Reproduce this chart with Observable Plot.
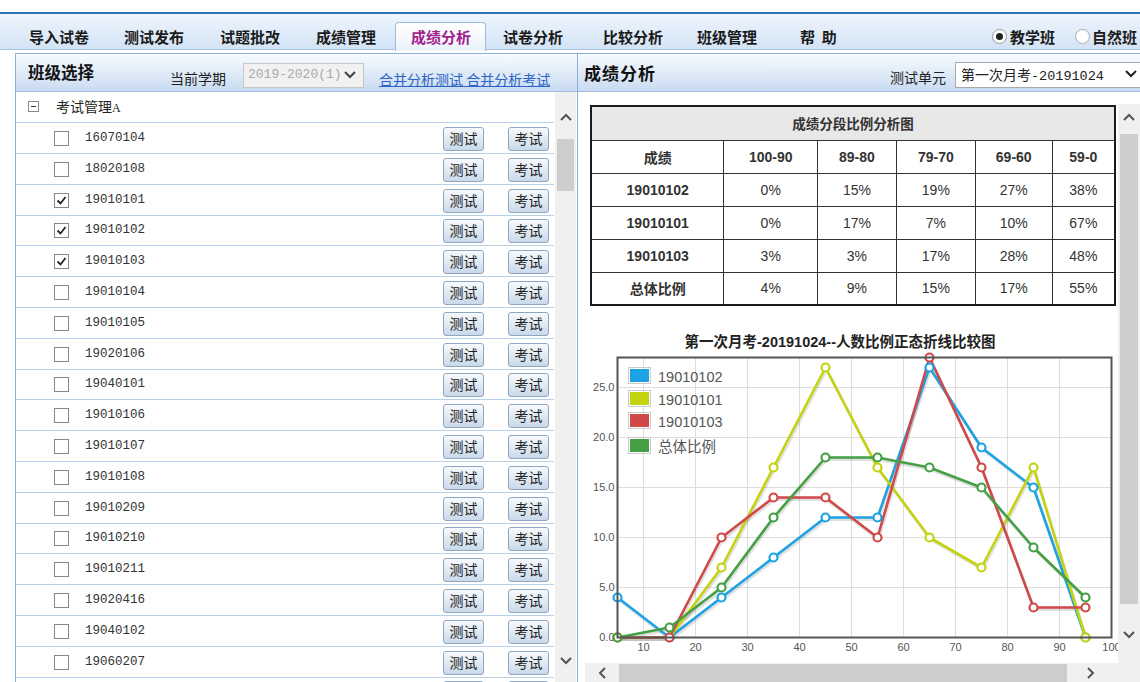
<!DOCTYPE html>
<html><head><meta charset="utf-8">
<script src="https://cdn.jsdelivr.net/npm/d3@7"></script>
<script src="https://cdn.jsdelivr.net/npm/@observablehq/plot@0.6"></script>
<style>
body{margin:0;width:1140px;height:682px;overflow:hidden;background:#fff;font-family:"Noto Sans CJK SC","Noto Sans",sans-serif;position:relative;color:#222}
.a{position:absolute}
#topline{left:0;top:12px;width:1140px;height:2px;background:#2f6fb3}
#tabbar{left:0;top:14px;width:1140px;height:35px;background:linear-gradient(#eef5fd,#d3e3f5);border-bottom:1px solid #a7c3e3}
#activeTab{left:395px;top:22px;width:89px;height:28px;background:linear-gradient(#ffffff,#eaf2fb);border:1px solid #9dbbdc;border-bottom:none;border-radius:4px 4px 0 0}
.tab{position:absolute;top:20px;height:34px;line-height:34px;font-weight:700;font-size:15px;color:#1b1b1b;white-space:nowrap}
.panel{position:absolute;top:53px;height:640px;border:1px solid #8db0d8;background:#fff}
.phead{position:absolute;left:0;top:0;right:0;height:37px;background:linear-gradient(#f7fbff,#c9dbf1);border-bottom:1px solid #9ebde0}
.row{position:absolute;left:0;width:538px;height:30px;border-bottom:1px solid #b9d0ea}
.cb{position:absolute;left:38px;top:8px;width:13px;height:13px;border:1px solid #888;background:#fff}
.cb svg{display:block;position:absolute;left:0;top:0}
.num{position:absolute;left:69px;top:0;line-height:30px;font-family:"Liberation Mono","DejaVu Sans Mono",monospace;font-size:12.5px;color:#333}
.btn{position:absolute;top:4px;width:39px;height:22px;line-height:21px;text-align:center;font-size:14px;color:#222;border:1px solid #8fa6c0;border-radius:3px;background:linear-gradient(#f7fafd,#c9d9ea)}
.sbv{position:absolute;background:#f0f0f0}
.thumb{position:absolute;background:#cdcdcd}
table{border-collapse:collapse;font-family:"Liberation Sans",Arial,sans-serif;font-size:14px;color:#333}
td{border:1px solid #333;text-align:center;padding:0}
.lg{position:absolute;left:628px;height:16px;font-family:"Liberation Sans","Noto Sans CJK SC",sans-serif;font-size:14.5px;color:#555;white-space:nowrap}
.lg i{display:inline-block;width:19px;height:13px;border:1px solid #ccc;padding:1px;background-clip:content-box;vertical-align:-2px;margin-right:7px}
</style>
</head><body>
<script>
// ---- data ----
const tabs = ["导入试卷","测试发布","试题批改","成绩管理","成绩分析","试卷分析","比较分析","班级管理","帮 助"];
const tabLeft = [29,124,220,316,411,503,603,697,800];
const activeTabName = "成绩分析";
const classList = ["16070104","18020108","19010101","19010102","19010103","19010104","19010105","19020106","19040101","19010106","19010107","19010108","19010209","19010210","19010211","19020416","19040102","19060207",""];
const checkedClasses = ["19010101","19010102","19010103"];
const tableTitle = "成绩分段比例分析图";
const tableHeader = ["成绩","100-90","89-80","79-70","69-60","59-0"];
const tableRowNames = ["19010102","19010101","19010103","总体比例"];
const tableValues = [
  ["0%","15%","19%","27%","38%"],
  ["0%","17%","7%","10%","67%"],
  ["3%","3%","17%","28%","48%"],
  ["4%","9%","15%","17%","55%"]
];
const chartTitle = "第一次月考-20191024--人数比例正态折线比较图";
const xBins = [5,15,25,35,45,55,65,75,85,95];
const seriesNames = ["19010102","19010101","19010103","总体比例"];
const seriesColors = ["#1da2e3","#c3d40f","#d04848","#45a045"];
const s19010102 = [4,0,4,8,12,12,27,19,15,0];
const s19010101 = [0,0,7,17,27,17,10,7,17,0];
const s19010103 = [0,0,10,14,14,10,28,17,3,3];
const sTotal    = [0,1,5,12,18,18,17,15,9,4];
const xTicks = [10,20,30,40,50,60,70,80,90,100];
const yTicks = [0,5,10,15,20,25];

function el(tag, cls, style, html){const e=document.createElement(tag); if(cls) e.className=cls; if(style) e.style.cssText=style; if(html!=null) e.innerHTML=html; return e;}
const chev = (dir)=>{const p={up:"M2,8 L7,3 L12,8",down:"M2,3 L7,8 L12,3",left:"M8,2 L3,7 L8,12",right:"M3,2 L8,7 L3,12"}[dir];return `<svg width="14" height="14" viewBox="0 0 14 14" style="display:block"><path d="${p}" fill="none" stroke="#555" stroke-width="2"/></svg>`;};

const B = document.body;
B.appendChild(el("div","a","",null)).id="topline";
B.appendChild(el("div","a")).id="tabbar";
B.appendChild(el("div","a")).id="activeTab";
tabs.forEach((t,i)=>{const d=el("div","tab",`left:${tabLeft[i]}px;${t===activeTabName?"color:#a3208d;":""}`,t); if(t==="帮 助") d.style.whiteSpace="pre", d.textContent="帮  助"; B.appendChild(d);});
B.appendChild(el("div","a","left:992px;top:29px;width:13px;height:13px;border-radius:50%;border:1px solid #999;background:#fff",'<div style="position:absolute;left:3px;top:3px;width:7px;height:7px;border-radius:50%;background:#222"></div>'));
B.appendChild(el("div","tab","left:1010px;","教学班"));
B.appendChild(el("div","a","left:1075px;top:29px;width:13px;height:13px;border-radius:50%;border:1px solid #aaa;background:#fff"));
B.appendChild(el("div","tab","left:1092px;","自然班"));

// left panel
const L = el("div","panel","left:15px;width:561px;overflow:hidden"); B.appendChild(L);
const LH = el("div","phead"); L.appendChild(LH);
LH.appendChild(el("div","a","left:12px;top:0;line-height:36px;font-weight:700;font-size:16.5px;color:#111","班级选择"));
LH.appendChild(el("div","a","left:154px;top:8px;line-height:32px;font-size:14px;color:#222","当前学期"));
LH.appendChild(el("div","a","left:227px;top:9px;width:119px;height:23px;border:1px solid #c6c6c6;background:#f1f1f1;overflow:hidden",'<span style="position:absolute;left:4px;top:0;line-height:22px;font-family:Liberation Mono,monospace;font-size:13px;color:#aaa;white-space:nowrap">2019-2020(1)</span><span style="position:absolute;right:0;top:0;width:20px;height:23px;background:#f1f1f1;padding-top:5px;box-sizing:border-box">'+chev("down").replace('#555','#444')+'</span>'));
LH.appendChild(el("div","a","left:363px;top:10px;line-height:30px;font-size:14px;color:#2a62c5;text-decoration:underline;white-space:nowrap","合并分析测试 合并分析考试"));
// tree header
L.appendChild(el("div","a","left:12px;top:47px;width:9px;height:9px;border:1px solid #888;font-size:0",'<div style="position:absolute;left:2px;top:4px;width:5px;height:1px;background:#333"></div>'));
L.appendChild(el("div","a","left:40px;top:38px;line-height:28px;font-size:14px;color:#222","考试管理<span style=\"font-family:Liberation Serif;font-size:12px\">A</span>"));
L.appendChild(el("div","a","left:0;top:68px;width:538px;height:1px;background:#b9d0ea"));
classList.forEach((c,i)=>{
  const r=el("div","row",`top:${69+i*30.8}px`);
  if(c){
    const chk = checkedClasses.includes(c);
    r.appendChild(el("div","cb","",chk?'<svg width="13" height="13"><path d="M2.5,6.5 L5.5,9.5 L10.5,3" fill="none" stroke="#222" stroke-width="1.8"/></svg>':""));
    r.appendChild(el("div","num","",c));
  }
  r.appendChild(el("div","btn","left:427px",c?"测试":""));
  r.appendChild(el("div","btn","left:492px",c?"考试":""));
  L.appendChild(r);
});
const LS = el("div","sbv","left:539px;top:38px;width:21px;height:602px"); L.appendChild(LS);
LS.appendChild(el("div","a","left:4px;top:20px",chev("up")));
LS.appendChild(el("div","thumb","left:2px;top:47px;width:17px;height:52px"));
LS.appendChild(el("div","a","left:4px;top:563px",chev("down")));

// right panel
const R = el("div","panel","left:577px;width:570px;overflow:hidden"); B.appendChild(R);
const RH = el("div","phead"); R.appendChild(RH);
RH.appendChild(el("div","a","left:6px;top:1px;line-height:36px;font-weight:700;font-size:17px;color:#111;letter-spacing:1px","成绩分析"));
RH.appendChild(el("div","a","left:312px;top:7px;line-height:32px;font-size:14px;color:#222","测试单元"));
RH.appendChild(el("div","a","left:377px;top:8px;width:184px;height:24px;border:1px solid #a9a9a9;background:#fff;overflow:hidden",'<span style="position:absolute;left:5px;top:0;line-height:23px;font-size:14px;color:#222;white-space:nowrap">第一次月考<span style="font-family:Liberation Mono,monospace;font-size:13.5px">-20191024</span></span><span style="position:absolute;right:2px;top:5px">'+chev("down").replace('#555','#222')+'</span>'));

// table
const T = el("table","a","left:590px;top:105px;width:526px;height:201px;border:2px solid #1a1a1a");
const colW=[133,94,79,79,77,62];
let h = `<tr style="height:34px"><td colspan="6" style="background:#e8e8e8;font-weight:700;font-family:'Noto Sans CJK SC';font-size:13.5px">${tableTitle}</td></tr>`;
h += `<tr style="height:33px">`+tableHeader.map((t,i)=>`<td style="width:${colW[i]}px;font-weight:700;${i===0?"font-family:'Noto Sans CJK SC';":""}">${t}</td>`).join("")+`</tr>`;
tableRowNames.forEach((n,ri)=>{h+=`<tr style="height:33px"><td style="font-weight:700;${/\d/.test(n)?"":"font-family:'Noto Sans CJK SC';"}">${n}</td>`+tableValues[ri].map(v=>`<td>${v}</td>`).join("")+`</tr>`;});
T.innerHTML=h; B.appendChild(T);

// chart title
B.appendChild(el("div","a","left:580px;top:330px;width:520px;text-align:center;font-weight:700;font-size:14.5px;line-height:22px;color:#222;white-space:nowrap",chartTitle.replace(/(-20191024--)/,'<span style="font-family:Liberation Sans,Arial">$1</span>')));

// chart
const allSeries=[s19010102,s19010101,s19010103,sTotal];
const data=[];
seriesNames.forEach((n,si)=>xBins.forEach((x,i)=>data.push({series:n,x,y:allSeries[si][i]})));
const chart = Plot.plot({
  width:538, height:312,
  marginLeft:37, marginRight:7, marginTop:7, marginBottom:25,
  x:{domain:[5,100], ticks:xTicks, tickSize:0, tickPadding:6, label:null},
  y:{domain:[0,28], ticks:yTicks, tickFormat:d=>d.toFixed(1), tickSize:0, tickPadding:3, label:null},
  color:{domain:seriesNames, range:seriesColors},
  style:{fontSize:"11px", fontFamily:"Liberation Sans, Arial, sans-serif", color:"#555", background:"transparent", overflow:"visible"},
  marks:[
    Plot.ruleX(xTicks,{stroke:"#dddddd"}),
    Plot.ruleY(yTicks,{stroke:"#dddddd"}),
    Plot.line(data,{x:"x",y:"y",z:"series",stroke:"#000",strokeOpacity:0.12,strokeWidth:3,dx:1,dy:2}),
    Plot.line(data,{x:"x",y:"y",stroke:"series",strokeWidth:2.6}),
    Plot.dot(data,{x:"x",y:"y",stroke:"series",fill:"white",r:4,strokeWidth:2.2}),
    Plot.frame({stroke:"#555",strokeWidth:2})
  ]
});
const CW = el("div","a","left:580px;top:350px"); CW.appendChild(chart); B.appendChild(CW);

// legend
seriesNames.forEach((n,i)=>{B.appendChild(el("div","lg",`top:${367+i*22.5}px`,`<i style="background-color:${seriesColors[i]}"></i>${n}`));});

// right scrollbars
const RS = el("div","sbv","left:1118px;top:104px;width:22px;height:548px"); B.appendChild(RS);
RS.appendChild(el("div","a","left:4px;top:8px",chev("up")));
RS.appendChild(el("div","thumb","left:2px;top:30px;width:18px;height:470px"));
RS.appendChild(el("div","a","left:4px;top:525px",chev("down")));
const BS = el("div","sbv","left:585px;top:663px;width:533px;height:19px"); B.appendChild(BS);
BS.appendChild(el("div","a","left:12px;top:3px",chev("left")));
BS.appendChild(el("div","thumb","left:34px;top:1px;width:448px;height:18px"));
BS.appendChild(el("div","a","left:500px;top:3px",chev("right")));
B.appendChild(el("div","a","left:1118px;top:652px;width:22px;height:30px;background:#f0f0f0"));
</script>
</body></html>
